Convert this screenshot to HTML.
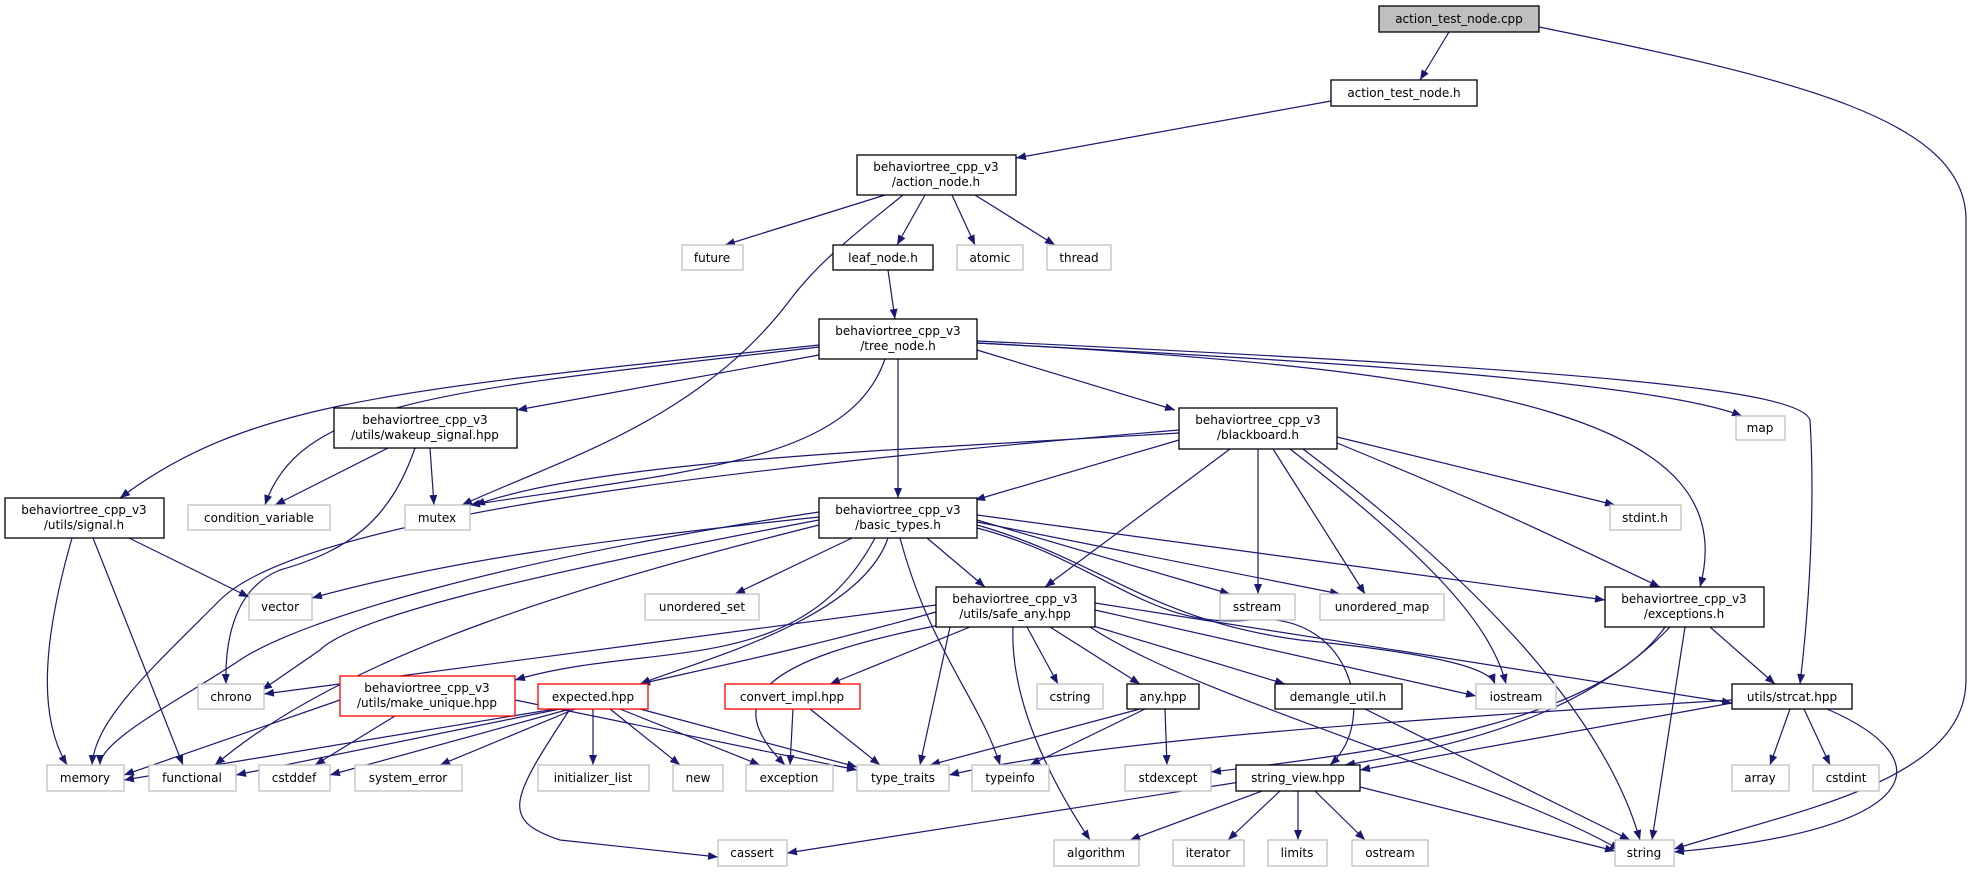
<!DOCTYPE html>
<html><head><meta charset="utf-8"><style>
html,body{margin:0;padding:0;background:#fff}
svg text{font-family:"DejaVu Sans","Liberation Sans",sans-serif;font-size:12px;fill:#000}
</style></head><body>
<svg width="1973" height="872" viewBox="0 0 1973 872" xmlns="http://www.w3.org/2000/svg">
<defs><marker id="a" markerUnits="userSpaceOnUse" markerWidth="11" markerHeight="8" refX="10" refY="4" orient="auto"><path d="M0,0 L10,4 L0,8 z" fill="#191970"/></marker></defs>
<g fill="none" stroke="#191970" stroke-width="1.2" marker-end="url(#a)">
<path d="M1449,32 L1420,80"/>
<path d="M1539,27 C1800,80 1966,120 1966,220 L1966,680 C1966,780 1800,810 1674,849"/>
<path d="M1331,101 L1016,158"/>
<path d="M885,195 L725,245"/>
<path d="M903,195 C860,230 820,260 790,300 C700,420 560,460 462,505"/>
<path d="M925,195 L897,245"/>
<path d="M952,195 L975,245"/>
<path d="M975,195 L1055,245"/>
<path d="M888,270 L895,319"/>
<path d="M819,345 C400,390 250,400 120,498"/>
<path d="M819,347 C450,390 300,400 265,505"/>
<path d="M819,355 L517,410"/>
<path d="M885,359 C850,460 700,470 470,505"/>
<path d="M898,359 L898,498"/>
<path d="M977,350 L1175,410"/>
<path d="M977,343 C1300,360 1650,380 1742,416"/>
<path d="M977,343 C1500,370 1745,420 1700,587"/>
<path d="M977,341 C1600,370 1800,390 1810,420 C1815,500 1810,600 1800,684"/>
<path d="M388,448 L275,505"/>
<path d="M430,448 L434,505"/>
<path d="M415,448 C390,520 350,550 280,570 C230,590 225,650 226,684"/>
<path d="M1179,433 C900,450 600,460 475,505"/>
<path d="M1179,430 C700,470 300,520 220,600 C150,670 95,720 92,765"/>
<path d="M1179,440 L975,500"/>
<path d="M1230,449 L1045,587"/>
<path d="M1258,449 L1258,594"/>
<path d="M1273,449 L1365,594"/>
<path d="M1290,449 C1420,550 1490,620 1506,684"/>
<path d="M1303,449 C1450,560 1600,700 1640,840"/>
<path d="M1337,443 C1500,510 1540,530 1660,587"/>
<path d="M1337,437 L1615,505"/>
<path d="M72,538 C40,650 40,720 67,765"/>
<path d="M93,538 L183,765"/>
<path d="M129,538 L249,597"/>
<path d="M819,517 C600,540 450,560 312,598"/>
<path d="M819,512 C500,560 300,620 240,660 C180,700 100,740 100,765"/>
<path d="M819,520 C500,580 350,620 320,650 L262,690"/>
<path d="M819,525 C600,580 350,650 215,765"/>
<path d="M852,538 L735,594"/>
<path d="M927,538 L985,587"/>
<path d="M875,538 C800,680 650,640 515,680"/>
<path d="M888,538 C860,620 700,660 640,684"/>
<path d="M900,538 C930,650 980,700 1000,765"/>
<path d="M977,520 L1230,594"/>
<path d="M977,522 L1340,594"/>
<path d="M977,515 L1605,600"/>
<path d="M977,525 C1100,560 1150,620 1300,640 C1450,655 1490,670 1495,684"/>
<path d="M977,528 C1100,560 1150,630 1250,620 C1350,610 1380,720 1330,765"/>
<path d="M936,605 L264,694"/>
<path d="M936,612 C800,650 700,670 640,684"/>
<path d="M970,627 L830,684"/>
<path d="M1027,627 L1058,684"/>
<path d="M1050,627 L1140,684"/>
<path d="M1090,625 L1285,684"/>
<path d="M1095,610 L1476,696"/>
<path d="M1095,603 L1732,703"/>
<path d="M1090,627 C1200,700 1500,780 1620,850"/>
<path d="M950,627 L920,765"/>
<path d="M1013,627 C1010,700 1050,780 1090,840"/>
<path d="M940,625 C760,660 720,700 785,765"/>
<path d="M340,700 L124,775"/>
<path d="M395,716 L315,765"/>
<path d="M515,700 L857,770"/>
<path d="M555,709 L124,780"/>
<path d="M560,709 L236,775"/>
<path d="M570,709 L330,775"/>
<path d="M575,709 L440,765"/>
<path d="M593,709 L593,765"/>
<path d="M610,709 L680,765"/>
<path d="M620,709 L760,765"/>
<path d="M640,709 L857,767"/>
<path d="M570,709 C510,800 500,820 560,840 L718,857"/>
<path d="M793,709 L790,765"/>
<path d="M810,709 L880,765"/>
<path d="M1140,709 L930,765"/>
<path d="M1145,709 L1030,765"/>
<path d="M1165,709 L1167,765"/>
<path d="M1365,709 L1630,840"/>
<path d="M1670,627 C1600,700 1500,740 1345,765"/>
<path d="M1665,627 C1600,720 1400,750 1211,772"/>
<path d="M1685,627 L1652,840"/>
<path d="M1710,627 L1775,684"/>
<path d="M1732,700 C1400,720 1100,740 949,775"/>
<path d="M1732,703 L1360,770"/>
<path d="M1790,709 L1770,765"/>
<path d="M1804,709 L1830,765"/>
<path d="M1827,709 C1945,760 1925,830 1674,852"/>
<path d="M1240,782 L787,853"/>
<path d="M1262,791 L1130,840"/>
<path d="M1280,791 L1228,840"/>
<path d="M1298,791 L1298,840"/>
<path d="M1315,791 L1365,840"/>
<path d="M1360,787 L1615,851"/>
</g>
<g stroke-width="1.3" text-anchor="middle">
<g fill="#fff" stroke="#000">
<rect x="1379" y="6" width="160" height="26" fill="#bfbfbf"/>
<rect x="1331" y="80" width="146" height="26"/>
<rect x="857" y="155" width="159" height="40"/>
<rect x="833" y="245" width="100" height="25"/>
<rect x="819" y="319" width="158" height="40"/>
<rect x="334" y="408" width="183" height="40"/>
<rect x="1179" y="408" width="158" height="41"/>
<rect x="5" y="498" width="159" height="40"/>
<rect x="819" y="498" width="158" height="40"/>
<rect x="936" y="587" width="159" height="40"/>
<rect x="1605" y="587" width="159" height="40"/>
<rect x="1127" y="684" width="72" height="25"/>
<rect x="1275" y="684" width="127" height="25"/>
<rect x="1732" y="684" width="120" height="25"/>
<rect x="1236" y="765" width="124" height="26"/>
</g>
<g fill="#fff" stroke="#ff0000">
<rect x="340" y="676" width="175" height="40"/>
<rect x="538" y="684" width="110" height="25"/>
<rect x="725" y="684" width="135" height="25"/>
</g>
<g fill="#fff" stroke="#bfbfbf">
<rect x="682" y="245" width="61" height="25"/>
<rect x="957" y="245" width="66" height="25"/>
<rect x="1047" y="245" width="64" height="25"/>
<rect x="1736" y="416" width="49" height="24"/>
<rect x="188" y="505" width="142" height="25"/>
<rect x="405" y="505" width="65" height="25"/>
<rect x="1610" y="505" width="71" height="25"/>
<rect x="249" y="594" width="63" height="26"/>
<rect x="645" y="594" width="114" height="26"/>
<rect x="1220" y="594" width="75" height="26"/>
<rect x="1320" y="594" width="124" height="26"/>
<rect x="198" y="684" width="66" height="25"/>
<rect x="1037" y="684" width="66" height="25"/>
<rect x="1476" y="684" width="80" height="25"/>
<rect x="47" y="765" width="77" height="26"/>
<rect x="149" y="765" width="87" height="26"/>
<rect x="259" y="765" width="71" height="26"/>
<rect x="355" y="765" width="107" height="26"/>
<rect x="538" y="765" width="111" height="26"/>
<rect x="673" y="765" width="50" height="26"/>
<rect x="746" y="765" width="87" height="26"/>
<rect x="857" y="765" width="92" height="26"/>
<rect x="972" y="765" width="77" height="26"/>
<rect x="1125" y="765" width="86" height="26"/>
<rect x="1732" y="765" width="57" height="26"/>
<rect x="1813" y="765" width="66" height="26"/>
<rect x="718" y="840" width="69" height="26"/>
<rect x="1054" y="840" width="85" height="26"/>
<rect x="1173" y="840" width="71" height="26"/>
<rect x="1268" y="840" width="59" height="26"/>
<rect x="1352" y="840" width="76" height="26"/>
<rect x="1615" y="840" width="59" height="26"/>
</g>
</g>
<g text-anchor="middle">
<text x="1459" y="23">action_test_node.cpp</text>
<text x="1404" y="97">action_test_node.h</text>
<text x="936" y="171">behaviortree_cpp_v3</text><text x="936" y="186">/action_node.h</text>
<text x="883" y="262">leaf_node.h</text>
<text x="898" y="335">behaviortree_cpp_v3</text><text x="898" y="350">/tree_node.h</text>
<text x="425" y="424">behaviortree_cpp_v3</text><text x="425" y="439">/utils/wakeup_signal.hpp</text>
<text x="1258" y="424">behaviortree_cpp_v3</text><text x="1258" y="439">/blackboard.h</text>
<text x="84" y="514">behaviortree_cpp_v3</text><text x="84" y="529">/utils/signal.h</text>
<text x="898" y="514">behaviortree_cpp_v3</text><text x="898" y="529">/basic_types.h</text>
<text x="1015" y="603">behaviortree_cpp_v3</text><text x="1015" y="618">/utils/safe_any.hpp</text>
<text x="1684" y="603">behaviortree_cpp_v3</text><text x="1684" y="618">/exceptions.h</text>
<text x="1163" y="701">any.hpp</text>
<text x="1338" y="701">demangle_util.h</text>
<text x="1792" y="701">utils/strcat.hpp</text>
<text x="1298" y="782">string_view.hpp</text>
<text x="427" y="692">behaviortree_cpp_v3</text><text x="427" y="707">/utils/make_unique.hpp</text>
<text x="593" y="701">expected.hpp</text>
<text x="792" y="701">convert_impl.hpp</text>
<text x="712" y="262">future</text>
<text x="990" y="262">atomic</text>
<text x="1079" y="262">thread</text>
<text x="1760" y="432">map</text>
<text x="259" y="522">condition_variable</text>
<text x="437" y="522">mutex</text>
<text x="1645" y="522">stdint.h</text>
<text x="280" y="611">vector</text>
<text x="702" y="611">unordered_set</text>
<text x="1257" y="611">sstream</text>
<text x="1382" y="611">unordered_map</text>
<text x="231" y="701">chrono</text>
<text x="1070" y="701">cstring</text>
<text x="1516" y="701">iostream</text>
<text x="85" y="782">memory</text>
<text x="192" y="782">functional</text>
<text x="294" y="782">cstddef</text>
<text x="408" y="782">system_error</text>
<text x="593" y="782">initializer_list</text>
<text x="698" y="782">new</text>
<text x="789" y="782">exception</text>
<text x="903" y="782">type_traits</text>
<text x="1010" y="782">typeinfo</text>
<text x="1168" y="782">stdexcept</text>
<text x="1760" y="782">array</text>
<text x="1846" y="782">cstdint</text>
<text x="752" y="857">cassert</text>
<text x="1096" y="857">algorithm</text>
<text x="1208" y="857">iterator</text>
<text x="1297" y="857">limits</text>
<text x="1390" y="857">ostream</text>
<text x="1644" y="857">string</text>
</g>
</svg>
</body></html>
